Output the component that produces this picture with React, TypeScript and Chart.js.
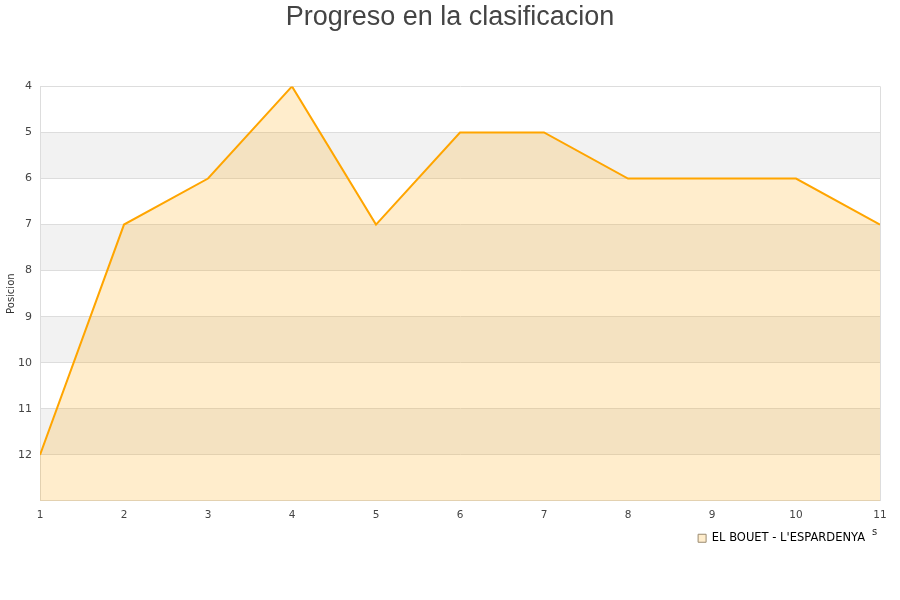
import React, { useEffect, useRef } from "react";
import { Chart, registerables } from "chart.js";

Chart.register(...registerables);

const jornadas: number[] = [1, 2, 3, 4, 5, 6, 7, 8, 9, 10, 11];
const posiciones: number[] = [12, 7, 6, 4, 7, 5, 5, 6, 6, 6, 7];
const teamName = "EL BOUET - L'ESPARDENYA";
const titleText = "Progreso en la clasificacion";
const yTitle = "Posicion";
const bandRanges: [number, number][] = [[5, 6], [7, 8], [9, 10], [11, 12]];

const bandsPlugin = {
  id: "bands",
  afterLayout(chart: any) {
    if (chart.legend) {
      chart.legend.left -= 5;
      chart.legend.right -= 5;
      chart.legend.top -= 7;
      chart.legend.bottom -= 7;
    }
    if (chart.titleBlock) {
      chart.titleBlock.right += 20;
      chart.titleBlock.top += 1;
      chart.titleBlock.bottom += 1;
    }
  },
  beforeDraw(chart: any) {
    const { ctx, chartArea, scales } = chart;
    const y = scales.y;
    ctx.save();
    ctx.fillStyle = "#f2f2f2";
    for (const [a, b] of bandRanges) {
      const y1 = y.getPixelForValue(a);
      const y2 = y.getPixelForValue(b);
      ctx.fillRect(chartArea.left, Math.min(y1, y2), chartArea.right - chartArea.left, Math.abs(y2 - y1));
    }
    ctx.restore();
  },
  afterDraw(chart: any) {
    const { ctx, chartArea } = chart;
    ctx.save();
    ctx.strokeStyle = "#dddddd";
    ctx.lineWidth = 1;
    ctx.beginPath();
    ctx.moveTo(Math.round(chartArea.right) + 0.5, chartArea.top);
    ctx.lineTo(Math.round(chartArea.right) + 0.5, chartArea.bottom);
    ctx.stroke();
    ctx.fillStyle = "#222";
    ctx.font = "10px 'DejaVu Sans'";
    ctx.textAlign = "left";
    ctx.textBaseline = "middle";
    ctx.fillText("s", 872, 532);
    ctx.restore();
  },
};

export default function App() {
  const ref = useRef<HTMLCanvasElement | null>(null);
  useEffect(() => {
    if (!ref.current) return;
    const chart = new Chart(ref.current, {
      type: "line",
      data: {
        datasets: [
          {
            label: teamName,
            data: jornadas.map((j, i) => ({ x: j, y: posiciones[i] })),
            borderColor: "#ffa500",
            backgroundColor: "rgba(255,165,0,0.2)",
            borderWidth: 2,
            pointRadius: 0,
            fill: { value: 13 },
            tension: 0,
          },
        ],
      },
      options: {
        animation: false,
        responsive: false,
        layout: { padding: { left: 0, right: 20, top: 0, bottom: 39 } },
        plugins: {
          title: {
            display: true,
            text: titleText,
            color: "#444",
            font: { family: "'Liberation Sans', Arial, sans-serif", size: 27, weight: "normal" },
            padding: { top: 0, bottom: 54 },
          },
          legend: {
            display: true,
            position: "bottom",
            align: "end",
            labels: {
              boxWidth: 8,
              boxHeight: 8,
              color: "#000",
              font: { family: "'DejaVu Sans'", size: 11.5 },
              padding: 10,
              generateLabels: (c: any) => [
                {
                  text: teamName,
                  fillStyle: "rgba(255,165,0,0.2)",
                  strokeStyle: "#9a8a70",
                  lineWidth: 1,
                  hidden: false,
                  datasetIndex: 0,
                  fontColor: "#000",
                },
              ],
            },
          },
          tooltip: { enabled: false },
        },
        scales: {
          x: {
            type: "linear",
            min: 1,
            max: 11,
            ticks: { stepSize: 1, color: "#444", font: { family: "'DejaVu Sans'", size: 10.5 }, padding: 8 },
            grid: { display: false, drawTicks: false },
            border: { display: true, color: "#dddddd" },
          },
          y: {
            reverse: true,
            min: 4,
            max: 13,
            afterFit: (s: any) => { s.width = 40; },
            ticks: {
              stepSize: 1,
              color: "#444",
              font: { family: "'DejaVu Sans'", size: 11 },
              padding: 8,
              callback: (v: any) => (v === 13 ? "" : String(v)),
            },
            grid: { color: "#dddddd", drawTicks: false },
            border: { display: true, color: "#dddddd" },
            title: { display: true, text: yTitle, color: "#333", font: { family: "'DejaVu Sans'", size: 10 }, padding: { top: 5, bottom: 0 } },
          },
        },
      },
      plugins: [bandsPlugin],
    });
    return () => chart.destroy();
  }, []);
  return (
    <div style={{ position: "absolute", left: 0, top: 0, width: 900, height: 600, background: "#fff" }}>
      <canvas ref={ref} width={900} height={600} />
    </div>
  );
}
